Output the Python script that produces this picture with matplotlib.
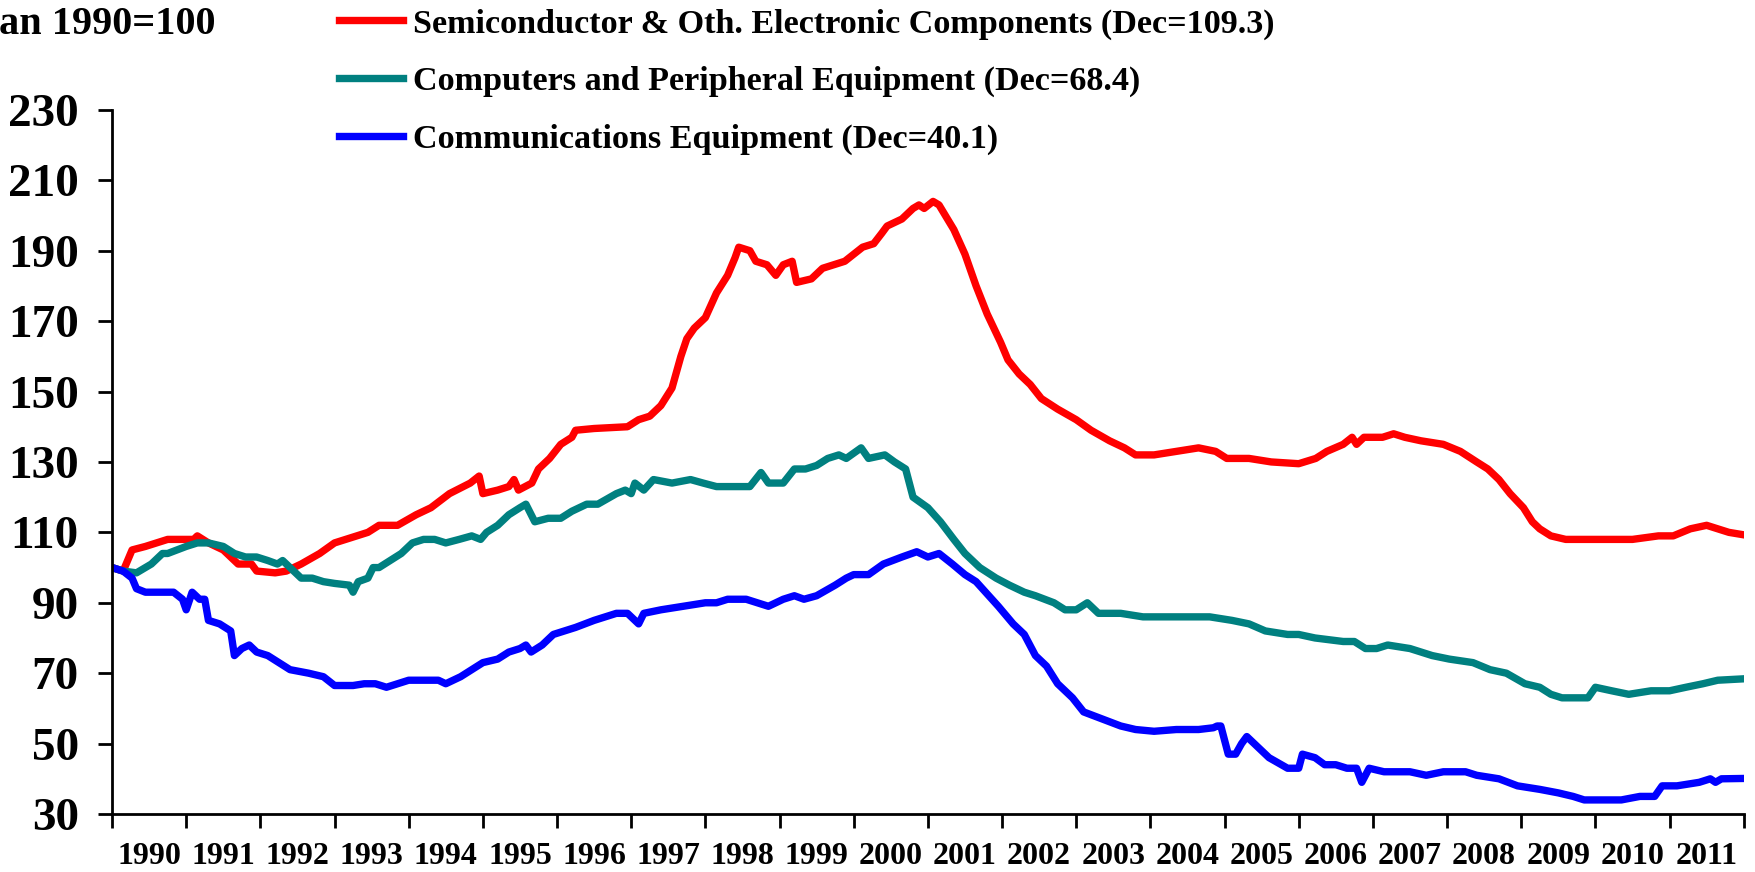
import matplotlib
matplotlib.use("Agg")
import matplotlib.pyplot as plt
from matplotlib.ticker import MultipleLocator, FixedLocator, NullFormatter

plt.rcParams['font.family'] = ['Liberation Serif', 'DejaVu Serif']
plt.rcParams['font.weight'] = 'bold'

# index, Jan 1990 = 100 (decimal years)
semi_x = [1990.0, 1990.15, 1990.27, 1990.45, 1990.6, 1990.75, 1991.1, 1991.15, 1991.3, 1991.5, 1991.7,
          1991.88, 1991.95, 1992.2, 1992.35, 1992.55, 1992.8, 1993.0, 1993.3, 1993.45, 1993.6, 1993.85,
          1994.1, 1994.3, 1994.55, 1994.83, 1994.95, 1995.0, 1995.2, 1995.35, 1995.42, 1995.48, 1995.66,
          1995.75, 1995.9, 1996.05, 1996.2, 1996.25, 1996.5, 1996.95, 1997.1, 1997.25, 1997.4, 1997.55,
          1997.67, 1997.75, 1997.85, 1998.0, 1998.15, 1998.3, 1998.4, 1998.45, 1998.6, 1998.68, 1998.83,
          1998.95, 1999.05, 1999.17, 1999.23, 1999.43, 1999.58, 1999.73, 1999.88, 2000.0, 2000.12,
          2000.27, 2000.38, 2000.45, 2000.65, 2000.8, 2000.88, 2000.95, 2001.07, 2001.15, 2001.35, 2001.5,
          2001.65, 2001.8, 2001.98, 2002.08, 2002.23, 2002.38, 2002.53, 2002.75, 2003.0, 2003.2, 2003.45,
          2003.65, 2003.8, 2004.05, 2004.35, 2004.65, 2004.88, 2005.03, 2005.33, 2005.63, 2006.0, 2006.23,
          2006.38, 2006.6, 2006.72, 2006.78, 2006.88, 2007.13, 2007.28, 2007.43, 2007.65, 2007.95, 2008.18,
          2008.4, 2008.55, 2008.7, 2008.85, 2009.03, 2009.15, 2009.25, 2009.4, 2009.6, 2009.9, 2010.2,
          2010.5, 2010.85, 2011.05, 2011.28, 2011.5, 2011.65, 2011.8, 2012.0]
semi_y = [100, 99, 105, 106, 107, 108, 108, 109, 107, 105, 101,
          101, 99, 98.5, 99, 101, 104, 107, 109, 110, 112, 112,
          115, 117, 121, 124, 126, 121, 122, 123, 125, 122, 124,
          128, 131, 135, 137, 139, 139.5, 140, 142, 143, 146, 151,
          160, 165, 168, 171, 178, 183, 188, 191, 190, 187, 186,
          183, 186, 187, 181, 182, 185, 186, 187, 189, 191,
          192, 195, 197, 199, 202, 203, 202, 204, 203, 196, 189,
          180, 172, 164, 159, 155, 152, 148, 145, 142, 139, 136,
          134, 132, 132, 133, 134, 133, 131, 131, 130, 129.5, 131,
          133, 135, 137, 135, 137, 137, 138, 137, 136, 135, 133,
          130, 128, 125, 121, 117, 113, 111, 109, 108, 108, 108,
          108, 109, 109, 111, 112, 111, 110, 109.3]

comp_x = [1990.0, 1990.15, 1990.33, 1990.53, 1990.68, 1990.75, 1991.0, 1991.15, 1991.3, 1991.5, 1991.65,
          1991.8, 1991.95, 1992.1, 1992.23, 1992.3, 1992.4, 1992.55, 1992.7, 1992.85, 1993.0, 1993.2,
          1993.25, 1993.32, 1993.45, 1993.52, 1993.6, 1993.75, 1993.9, 1994.05, 1994.2, 1994.35, 1994.5,
          1994.68, 1994.85, 1994.97, 1995.05, 1995.2, 1995.35, 1995.5, 1995.58, 1995.7, 1995.88, 1996.05,
          1996.2, 1996.4, 1996.55, 1996.8, 1996.92, 1997.0, 1997.05, 1997.17, 1997.3, 1997.55, 1997.8,
          1997.97, 1998.15, 1998.6, 1998.75, 1998.85, 1999.05, 1999.2, 1999.35, 1999.5, 1999.65, 1999.8,
          1999.9, 2000.1, 2000.2, 2000.42, 2000.55, 2000.7, 2000.8, 2001.0, 2001.17, 2001.35, 2001.5,
          2001.7, 2001.92, 2002.1, 2002.3, 2002.45, 2002.7, 2002.85, 2003.0, 2003.15, 2003.3, 2003.6,
          2003.9, 2004.2, 2004.5, 2004.8, 2005.1, 2005.33, 2005.55, 2005.85, 2006.0, 2006.22, 2006.6,
          2006.75, 2006.9, 2007.05, 2007.2, 2007.5, 2007.8, 2008.03, 2008.35, 2008.58, 2008.8, 2009.05,
          2009.25, 2009.4, 2009.55, 2009.9, 2010.0, 2010.22, 2010.45, 2010.75, 2011.0, 2011.22, 2011.45,
          2011.65, 2012.0]
comp_y = [100, 99, 98.5, 101, 104, 104, 106, 107, 107, 106, 104,
          103, 103, 102, 101, 102, 100, 97, 97, 96, 95.5, 95,
          93, 96, 97, 100, 100, 102, 104, 107, 108, 108, 107,
          108, 109, 108, 110, 112, 115, 117, 118, 113, 114, 114,
          116, 118, 118, 121, 122, 121, 124, 122, 125, 124, 125,
          124, 123, 123, 127, 124, 124, 128, 128, 129, 131, 132,
          131, 134, 131, 132, 130, 128, 120, 117, 113, 108, 104,
          100, 97, 95, 93, 92, 90, 88, 88, 90, 87, 87,
          86, 86, 86, 86, 85, 84, 82, 81, 81, 80, 79,
          79, 77, 77, 78, 77, 75, 74, 73, 71, 70, 67,
          66, 64, 63, 63, 66, 65, 64, 65, 65, 66, 67,
          68, 68.4]

comm_x = [1990.0, 1990.15, 1990.27, 1990.33, 1990.45, 1990.83, 1990.95, 1991.0, 1991.08, 1991.18, 1991.25,
          1991.3, 1991.45, 1991.6, 1991.65, 1991.75, 1991.85, 1991.95, 1992.1, 1992.25, 1992.4, 1992.65,
          1992.85, 1993.0, 1993.25, 1993.4, 1993.55, 1993.7, 1993.85, 1994.0, 1994.4, 1994.5, 1994.7,
          1994.85, 1995.0, 1995.2, 1995.35, 1995.5, 1995.58, 1995.65, 1995.8, 1995.95, 1996.1, 1996.25,
          1996.5, 1996.8, 1996.95, 1997.1, 1997.17, 1997.4, 1997.7, 1998.0, 1998.15, 1998.3, 1998.55,
          1998.85, 1999.05, 1999.2, 1999.33, 1999.5, 1999.75, 1999.9, 2000.0, 2000.2, 2000.4, 2000.65,
          2000.85, 2001.0, 2001.15, 2001.33, 2001.5, 2001.65, 2001.95, 2002.15, 2002.3, 2002.45, 2002.6,
          2002.75, 2002.95, 2003.1, 2003.35, 2003.6, 2003.8, 2004.05, 2004.35, 2004.65, 2004.85, 2004.9,
          2004.95, 2005.05, 2005.15, 2005.23, 2005.3, 2005.4, 2005.6, 2005.85, 2006.0, 2006.05, 2006.22,
          2006.35, 2006.5, 2006.65, 2006.78, 2006.85, 2006.95, 2007.15, 2007.5, 2007.72, 2007.95, 2008.25,
          2008.4, 2008.7, 2008.95, 2009.25, 2009.5, 2009.7, 2009.85, 2010.35, 2010.6, 2010.8, 2010.9,
          2011.1, 2011.4, 2011.55, 2011.62, 2011.7, 2012.0]
comm_y = [100, 99, 97, 94, 93, 93, 91, 88, 93, 91, 91,
          85, 84, 82, 75, 77, 78, 76, 75, 73, 71, 70,
          69, 66.5, 66.5, 67, 67, 66, 67, 68, 68, 67, 69,
          71, 73, 74, 76, 77, 78, 76, 78, 81, 82, 83,
          85, 87, 87, 84, 87, 88, 89, 90, 90, 91, 91,
          89, 91, 92, 91, 92, 95, 97, 98, 98, 101, 103,
          104.5, 103, 104, 101, 98, 96, 89, 84, 81, 75, 72,
          67, 63, 59, 57, 55, 54, 53.5, 54, 54, 54.5, 55,
          55, 47, 47, 50, 52, 50, 46, 43, 43, 47, 46,
          44, 44, 43, 43, 39, 43, 42, 42, 41, 42, 42,
          41, 40, 38, 37, 36, 35, 34, 34, 35, 35, 38,
          38, 39, 40, 39, 40, 40.1]

labels = ["Semiconductor & Oth. Electronic Components (Dec=109.3)",
          "Computers and Peripheral Equipment (Dec=68.4)",
          "Communications Equipment (Dec=40.1)"]
years = list(range(1990, 2012))
yticks = list(range(30, 231, 20))

fig = plt.figure(figsize=(17.56, 8.72), dpi=100)
ax = fig.add_axes([0.0638, 0.0665, 0.9292, 0.8075])

l1, = ax.plot(semi_x, semi_y, color='#FF0000', lw=5.3, solid_joinstyle='round')
l2, = ax.plot(comp_x, comp_y, color='#008080', lw=5.3, solid_joinstyle='round')
l3, = ax.plot(comm_x, comm_y, color='#0000FF', lw=5.3, solid_joinstyle='round')

ax.set_xlim(1990, 2012)
ax.set_ylim(30, 230)
ax.yaxis.set_major_locator(FixedLocator(yticks))
ax.xaxis.set_major_locator(MultipleLocator(1))
ax.xaxis.set_major_formatter(NullFormatter())
ax.xaxis.set_minor_locator(FixedLocator([y + 0.5 for y in years]))
ax.set_xticklabels([str(y) for y in years], minor=True)
ax.tick_params(axis='x', which='minor', length=0, pad=20, labelsize=23)
ax.tick_params(axis='x', which='major', length=10, width=2, direction='out')
ax.tick_params(axis='y', length=10, width=2, direction='out', labelsize=34, pad=14)
for s in ['top', 'right']:
    ax.spines[s].set_visible(False)
for s in ['left', 'bottom']:
    ax.spines[s].set_linewidth(2)
for lab in ax.get_xticklabels(minor=True) + ax.get_yticklabels():
    lab.set_fontweight('bold')

fig.text(216 / 1756, 1 - 24 / 872, "Jan 1990=100", ha='right', va='center',
         fontsize=29, fontweight='bold')

fig.legend([l1, l2, l3], labels, loc='upper left', bbox_to_anchor=(318 / 1756, 1.014),
           frameon=False, handlelength=1.9, handletextpad=0.27,
           labelspacing=0.78, borderpad=0.1, prop={'weight': 'bold', 'size': 24.6})

fig.savefig("out.png", dpi=100)
